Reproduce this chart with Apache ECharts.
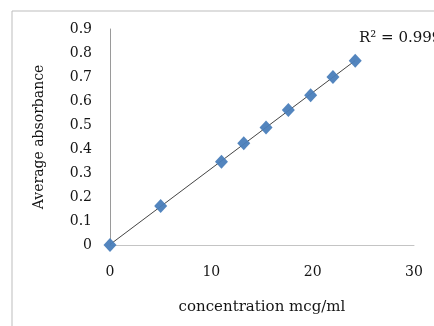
<!DOCTYPE html>
<html>
<head>
<meta charset="utf-8">
<script src="https://cdn.jsdelivr.net/npm/echarts@6/dist/echarts.min.js"></script>
<style>
  html, body { margin: 0; padding: 0; background: #fff; }
  #chart { width: 434px; height: 326px; }
</style>
</head>
<body>
<div id="chart"></div>
<script>
const concentration = [0, 5, 11, 13.2, 15.4, 17.6, 19.8, 22, 24.2]
const absorbance = [0, 0.163, 0.347, 0.424, 0.49, 0.563, 0.624, 0.7, 0.768]
const xTicks = [0, 10, 20, 30]
const yTicks = [0, 0.1, 0.2, 0.3, 0.4, 0.5, 0.6, 0.7, 0.8, 0.9]
const rSquared = '0.999'

const fontFamily = 'DejaVu Serif'
const textColor = '#151515'

// least squares trendline, like the spreadsheet one
const n = concentration.length
const mx = concentration.reduce((s, v) => s + v, 0) / n
const my = absorbance.reduce((s, v) => s + v, 0) / n
let sxy = 0
let sxx = 0
concentration.forEach((x, i) => {
  sxy += (x - mx) * (absorbance[i] - my)
  sxx += (x - mx) * (x - mx)
})
const slope = sxy / sxx
const intercept = my - slope * mx
const xFirst = concentration[0]
const xLast = concentration[n - 1]
const trend = [
  [xFirst, intercept + slope * xFirst],
  [xLast, intercept + slope * xLast],
]

const chart = echarts.init(document.getElementById('chart'))

chart.setOption({
  animation: false,
  backgroundColor: '#fff',
  grid: {
    left: 110,
    right: 20,
    top: 29,
    bottom: 81,
  },
  graphic: [
    {
      type: 'rect',
      shape: { x: 12, y: 11, width: 500, height: 400 },
      style: { fill: 'none', stroke: '#bdbdbd', lineWidth: 1 },
      silent: true,
    },
    {
      type: 'text',
      left: 359,
      top: 31,
      style: {
        text: 'R² = ' + rSquared,
        font: '15px ' + fontFamily,
        fill: textColor,
      },
    },
  ],
  xAxis: {
    type: 'value',
    min: xTicks[0],
    max: xTicks[xTicks.length - 1],
    interval: xTicks[1] - xTicks[0],
    name: 'concentration mcg/ml',
    nameLocation: 'middle',
    nameGap: 55,
    nameTextStyle: {
      fontFamily,
      fontSize: 15,
      color: textColor,
    },
    axisLine: {
      show: true,
      onZero: false,
      lineStyle: { color: '#c4c4c4', width: 1 },
    },
    axisTick: { show: false },
    axisLabel: {
      margin: 20,
      fontFamily,
      fontSize: 14,
      fontWeight: 500,
      color: textColor,
    },
    splitLine: { show: false },
  },
  yAxis: {
    type: 'value',
    min: yTicks[0],
    max: yTicks[yTicks.length - 1],
    interval: 0.1,
    name: 'Average absorbance',
    nameLocation: 'middle',
    nameGap: 64,
    nameTextStyle: {
      fontFamily,
      fontSize: 14,
      color: textColor,
    },
    axisLine: {
      show: true,
      lineStyle: { color: '#9a9a9a', width: 1 },
    },
    axisTick: { show: false },
    axisLabel: {
      margin: 18,
      fontFamily,
      fontSize: 14,
      fontWeight: 500,
      color: textColor,
      formatter: (v) => String(Math.round(v * 10) / 10),
    },
    splitLine: { show: false },
  },
  series: [
    {
      name: 'trendline',
      type: 'line',
      data: trend,
      symbol: 'none',
      lineStyle: { color: '#444', width: 1 },
      z: 2,
    },
    {
      name: 'absorbance',
      type: 'scatter',
      data: concentration.map((x, i) => [x, absorbance[i]]),
      symbol: 'diamond',
      symbolSize: [13, 14],
      itemStyle: { color: '#4a7ebb', opacity: 0.95 },
      z: 3,
    },
  ],
})
</script>
</body>
</html>
